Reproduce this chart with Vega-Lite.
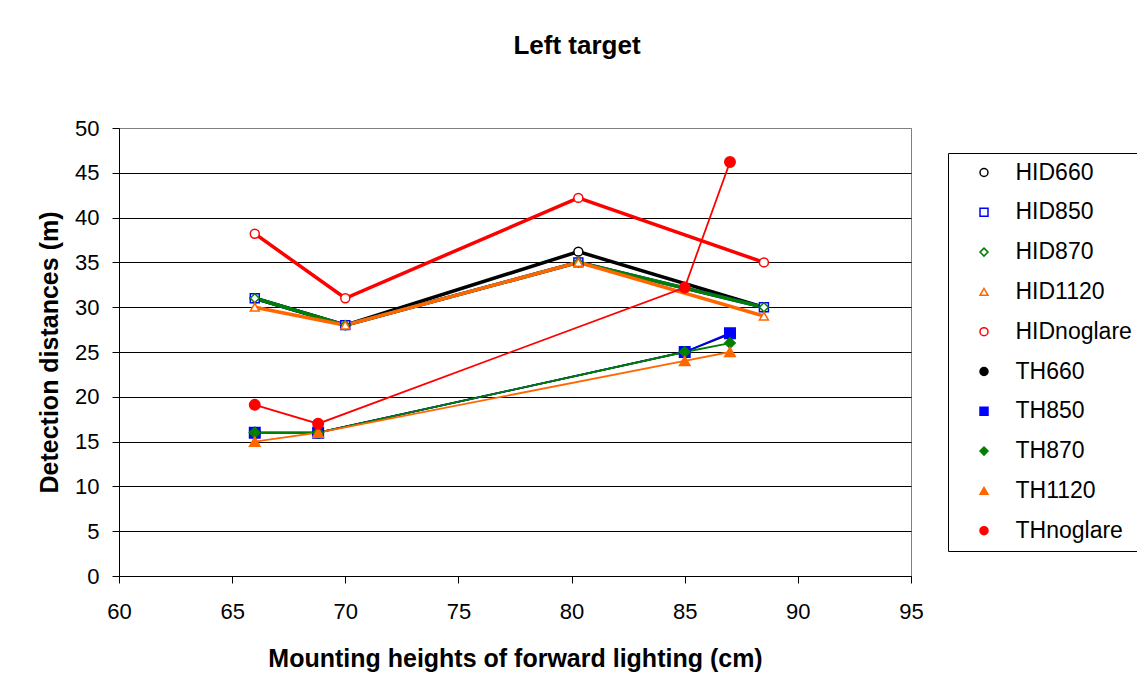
{
  "$schema": "https://vega.github.io/schema/vega-lite/v6.json",
  "autosize": "none",
  "width": 792,
  "height": 448,
  "padding": {"left": 119, "top": 128, "right": 226, "bottom": 119},
  "background": "white",
  "title": {
    "text": "Left target",
    "font": "Liberation Sans",
    "fontSize": 26,
    "fontWeight": "bold",
    "color": "black",
    "anchor": "middle",
    "frame": "group",
    "dx": 62,
    "offset": 58
  },
  "config": {
    "view": {"stroke": "#808080", "strokeWidth": 1},
    "axis": {
      "labelFont": "Liberation Sans",
      "labelFontSize": 22,
      "labelColor": "black",
      "titleFont": "Liberation Sans",
      "titleFontSize": 25,
      "titleFontWeight": "bold",
      "titleColor": "black",
      "domainColor": "black",
      "domainWidth": 1,
      "tickColor": "black",
      "tickSize": 7,
      "tickWidth": 1
    }
  },
  "data": {
    "values": [
      {"series": "HID660", "group": "HID", "x": 66, "y": 31},
      {"series": "HID660", "group": "HID", "x": 70, "y": 28},
      {"series": "HID660", "group": "HID", "x": 80.3, "y": 36.2},
      {"series": "HID660", "group": "HID", "x": 88.5, "y": 30},
      {"series": "HID850", "group": "HID", "x": 66, "y": 31},
      {"series": "HID850", "group": "HID", "x": 70, "y": 28},
      {"series": "HID850", "group": "HID", "x": 80.3, "y": 35},
      {"series": "HID850", "group": "HID", "x": 88.5, "y": 30},
      {"series": "HID870", "group": "HID", "x": 66, "y": 31},
      {"series": "HID870", "group": "HID", "x": 70, "y": 28},
      {"series": "HID870", "group": "HID", "x": 80.3, "y": 35},
      {"series": "HID870", "group": "HID", "x": 88.5, "y": 30},
      {"series": "HID1120", "group": "HID", "x": 66, "y": 30},
      {"series": "HID1120", "group": "HID", "x": 70, "y": 28},
      {"series": "HID1120", "group": "HID", "x": 80.3, "y": 35},
      {"series": "HID1120", "group": "HID", "x": 88.5, "y": 29},
      {"series": "HIDnoglare", "group": "HID", "x": 66, "y": 38.2},
      {"series": "HIDnoglare", "group": "HID", "x": 70, "y": 31},
      {"series": "HIDnoglare", "group": "HID", "x": 80.3, "y": 42.2},
      {"series": "HIDnoglare", "group": "HID", "x": 88.5, "y": 35},
      {"series": "TH660", "group": "TH", "x": 66, "y": 16},
      {"series": "TH660", "group": "TH", "x": 68.8, "y": 16},
      {"series": "TH660", "group": "TH", "x": 85, "y": 25},
      {"series": "TH660", "group": "TH", "x": 87, "y": 27},
      {"series": "TH850", "group": "TH", "x": 66, "y": 16},
      {"series": "TH850", "group": "TH", "x": 68.8, "y": 16},
      {"series": "TH850", "group": "TH", "x": 85, "y": 25},
      {"series": "TH850", "group": "TH", "x": 87, "y": 27.1},
      {"series": "TH870", "group": "TH", "x": 66, "y": 16},
      {"series": "TH870", "group": "TH", "x": 68.8, "y": 16},
      {"series": "TH870", "group": "TH", "x": 85, "y": 25},
      {"series": "TH870", "group": "TH", "x": 87, "y": 26},
      {"series": "TH1120", "group": "TH", "x": 66, "y": 15},
      {"series": "TH1120", "group": "TH", "x": 68.8, "y": 16},
      {"series": "TH1120", "group": "TH", "x": 85, "y": 24},
      {"series": "TH1120", "group": "TH", "x": 87, "y": 25},
      {"series": "THnoglare", "group": "TH", "x": 66, "y": 19.1},
      {"series": "THnoglare", "group": "TH", "x": 68.8, "y": 17},
      {"series": "THnoglare", "group": "TH", "x": 85, "y": 32.2},
      {"series": "THnoglare", "group": "TH", "x": 87, "y": 46.2}
    ]
  },
  "encoding": {
    "x": {
      "field": "x",
      "type": "quantitative",
      "scale": {"domain": [60, 95], "nice": false, "zero": false},
      "axis": {
        "title": "Mounting heights of forward lighting (cm)",
        "values": [60, 65, 70, 75, 80, 85, 90, 95],
        "grid": false,
        "labelPadding": 18,
        "labelFlush": false,
        "labelOverlap": false,
        "titlePadding": 24
      }
    },
    "y": {
      "field": "y",
      "type": "quantitative",
      "scale": {"domain": [0, 50], "nice": false},
      "axis": {
        "title": "Detection distances (m)",
        "values": [0, 5, 10, 15, 20, 25, 30, 35, 40, 45, 50],
        "grid": true,
        "gridColor": {"condition": {"test": "datum.value === 50", "value": "#808080"}, "value": "#000000"},
        "gridWidth": 1,
        "labelPadding": 13,
        "labelOverlap": false,
        "titlePadding": 12
      }
    }
  },
  "layer": [
    {
      "mark": {"type": "line", "interpolate": "linear"},
      "encoding": {
        "color": {
          "field": "series",
          "type": "nominal",
          "scale": {
            "domain": ["HID660", "HID850", "HID870", "HID1120", "HIDnoglare", "TH660", "TH850", "TH870", "TH1120", "THnoglare"],
            "range": ["#000000", "#0000FF", "#008000", "#FF6600", "#FF0000", "#000000", "#0000FF", "#008000", "#FF6600", "#FF0000"]
          }
        },
        "strokeWidth": {
          "condition": {"test": "datum.group === 'HID'", "value": 3.5},
          "value": 1.8
        }
      }
    },
    {
      "mark": {"type": "point", "filled": true, "opacity": 1, "strokeWidth": 1.5},
      "encoding": {
        "stroke": {
          "field": "series",
          "type": "nominal",
          "scale": {
            "domain": ["HID660", "HID850", "HID870", "HID1120", "HIDnoglare", "TH660", "TH850", "TH870", "TH1120", "THnoglare"],
            "range": ["#000000", "#0000FF", "#008000", "#FF6600", "#FF0000", "#000000", "#0000FF", "#008000", "#FF6600", "#FF0000"]
          },
          "legend": {
            "title": null,
            "orient": "none",
            "legendX": 829,
            "legendY": 25,
            "padding": 8,
            "strokeColor": "black",
            "fillColor": "white",
            "labelFont": "Liberation Sans",
            "labelFontSize": 23,
            "labelColor": "black",
            "labelLimit": 300,
            "rowPadding": 15.8,
            "symbolSize": 64,
            "symbolStrokeWidth": 1.5,
            "symbolOffset": 16.5,
            "labelOffset": 20,
            "symbolLimit": 20
          }
        },
        "fill": {
          "field": "series",
          "type": "nominal",
          "scale": {
            "domain": ["HID660", "HID850", "HID870", "HID1120", "HIDnoglare", "TH660", "TH850", "TH870", "TH1120", "THnoglare"],
            "range": ["#FFFFFF", "#FFFFFF", "#FFFFFF", "#FFFFFF", "#FFFFFF", "#000000", "#0000FF", "#008000", "#FF6600", "#FF0000"]
          }
        },
        "shape": {
          "field": "series",
          "type": "nominal",
          "scale": {
            "domain": ["HID660", "HID850", "HID870", "HID1120", "HIDnoglare", "TH660", "TH850", "TH870", "TH1120", "THnoglare"],
            "range": ["circle", "square", "diamond", "triangle-up", "circle", "circle", "square", "diamond", "triangle-up", "circle"]
          }
        },
        "size": {
          "condition": {"test": "datum.group === 'HID'", "value": 80},
          "value": 110
        }
      }
    }
  ]
}
